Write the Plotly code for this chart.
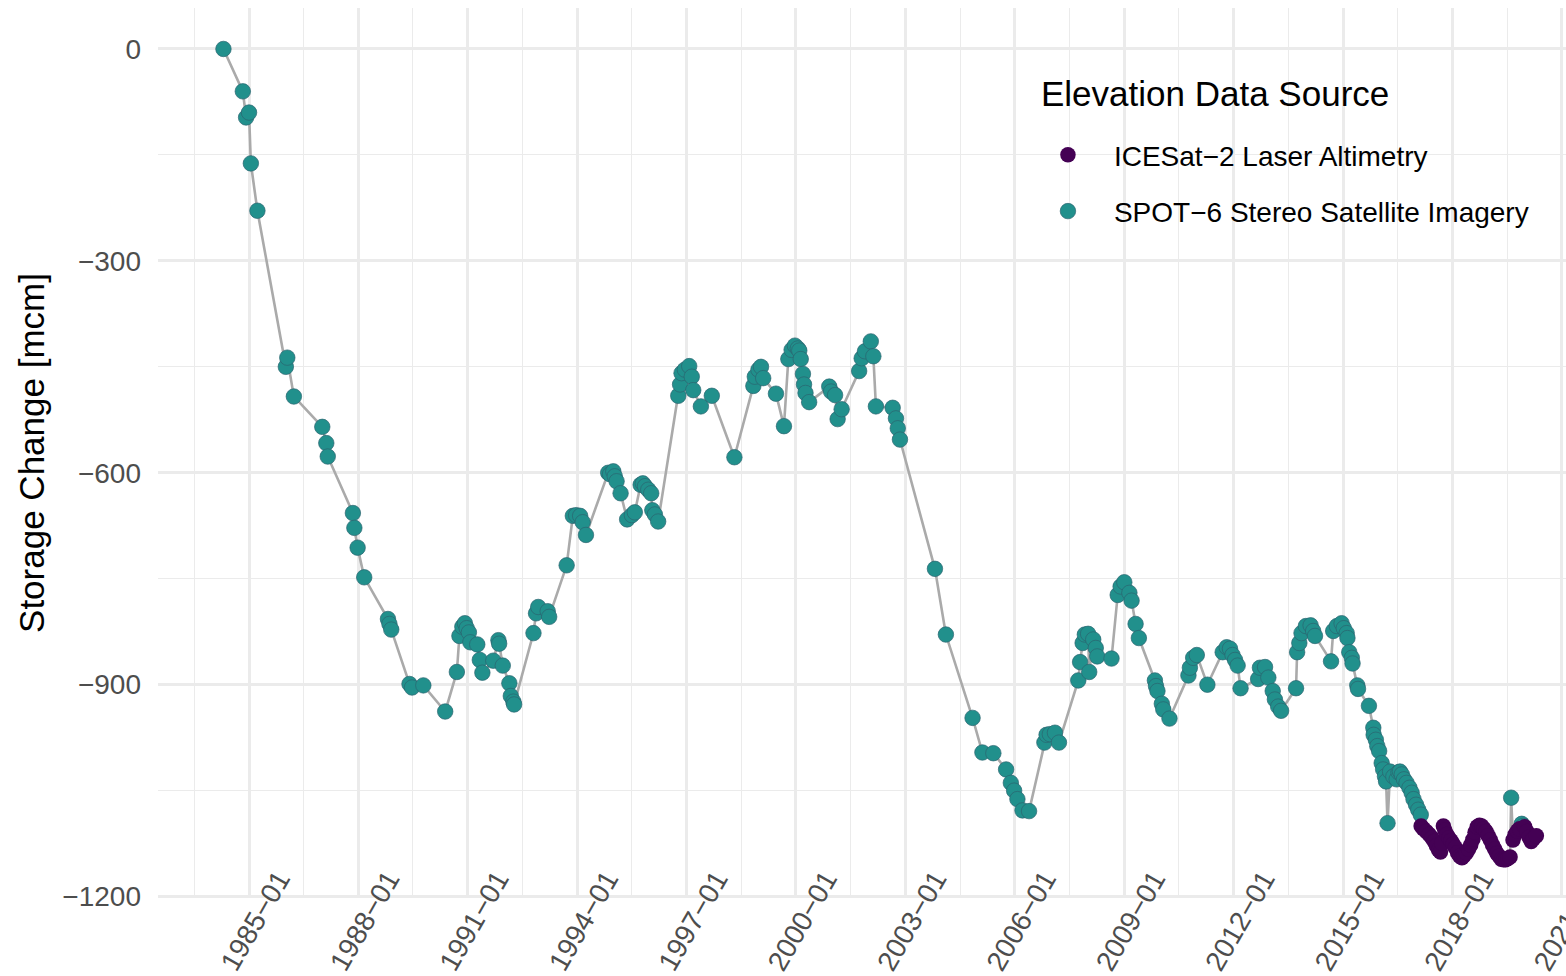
import pandas as pd
import plotly.graph_objects as go

# ---- data (decimal years, storage change in mcm) ----
spot_year = [
    1984.30, 1984.83, 1984.92, 1985.00, 1985.05, 1985.23, 1986.01, 1986.05, 1986.23,
    1987.01, 1987.12, 1987.16, 1987.85, 1987.89, 1987.98, 1988.16, 1988.81, 1988.85,
    1988.90, 1989.40, 1989.47, 1989.78, 1990.38, 1990.70, 1990.77, 1990.85, 1990.92,
    1990.97, 1991.03, 1991.07, 1991.26, 1991.33, 1991.40, 1991.70, 1991.84, 1991.86,
    1991.96, 1992.14, 1992.18, 1992.25, 1992.27, 1992.80, 1992.87, 1992.93, 1993.19,
    1993.23, 1993.71, 1993.88, 1993.97, 1994.08, 1994.15, 1994.24, 1994.85, 1994.90,
    1994.99, 1995.03, 1995.08, 1995.19, 1995.37, 1995.50, 1995.58, 1995.74, 1995.80,
    1995.86, 1995.95, 1996.03, 1996.06, 1996.13, 1996.22, 1996.77, 1996.82, 1996.86,
    1996.95, 1997.07, 1997.14, 1997.18, 1997.39, 1997.69, 1998.31, 1998.83, 1998.87,
    1998.97, 1999.04, 1999.10, 1999.45, 1999.67, 1999.79, 1999.88, 1999.97, 2000.05,
    2000.09, 2000.13, 2000.19, 2000.22, 2000.26, 2000.36, 2000.91, 2000.96, 2001.07,
    2001.14, 2001.25, 2001.73, 2001.80, 2001.89, 2002.05, 2002.12, 2002.19, 2002.65,
    2002.74, 2002.79, 2002.85, 2003.81, 2004.11, 2004.84, 2005.11, 2005.41, 2005.76,
    2005.89, 2005.98, 2006.07, 2006.21, 2006.39, 2006.81, 2006.87, 2006.96, 2007.10,
    2007.21, 2007.74, 2007.79, 2007.86, 2007.92, 2008.01, 2008.04, 2008.15, 2008.22,
    2008.26, 2008.65, 2008.82, 2008.90, 2009.00, 2009.14, 2009.20, 2009.31, 2009.40,
    2009.84, 2009.87, 2009.91, 2010.03, 2010.07, 2010.24, 2010.76, 2010.80, 2010.89,
    2010.99, 2011.28, 2011.70, 2011.81, 2011.90, 2011.97, 2012.04, 2012.11, 2012.19,
    2012.67, 2012.72, 2012.86, 2012.95, 2013.07, 2013.13, 2013.22, 2013.30, 2013.71,
    2013.74, 2013.80, 2013.86, 2013.98, 2014.11, 2014.18, 2014.23, 2014.67, 2014.73,
    2014.83, 2014.96, 2015.02, 2015.10, 2015.12, 2015.17, 2015.24, 2015.26, 2015.39,
    2015.41, 2015.71, 2015.83, 2015.84, 2015.90, 2015.94, 2015.99, 2016.06, 2016.10,
    2016.15, 2016.18, 2016.22, 2016.29, 2016.38, 2016.47, 2016.52, 2016.56, 2016.61,
    2016.67, 2016.74, 2016.82, 2016.88, 2016.93, 2017.00, 2017.06, 2017.13,
    2019.61, 2019.90, 2019.94,
]
spot_value = [
    0, -60, -97, -90, -162, -229, -450, -437, -492,
    -535, -558, -577, -657, -678, -706, -748, -807, -814,
    -822, -899, -904, -901, -938, -882, -831, -818, -813,
    -820, -826, -840, -843, -865, -883, -866, -837, -842,
    -873, -898, -916, -924, -928, -827, -799, -790, -796,
    -804, -731, -661, -660, -661, -670, -688, -600, -602,
    -598, -605, -612, -629, -666, -660, -656, -617, -615,
    -619, -624, -629, -653, -659, -669, -491, -475, -459,
    -454, -449, -464, -483, -506, -491, -578, -477, -464,
    -454, -450, -466, -488, -534, -439, -426, -420, -424,
    -427, -439, -460, -475, -487, -500, -478, -485, -490,
    -524, -510, -456, -438, -428, -414, -435, -506, -508,
    -523, -537, -553, -736, -829, -947, -996, -997, -1020,
    -1039, -1050, -1062, -1078, -1079, -982, -971, -970, -968,
    -982, -894, -868, -841, -829, -828, -882, -836, -848,
    -860, -863, -773, -761, -755, -770, -781, -814, -834,
    -894, -902, -909, -927, -935, -948, -887, -876, -862,
    -858, -900, -854, -847, -849, -858, -865, -873, -905,
    -892, -876, -875, -890, -909, -921, -931, -937, -905,
    -854, -841, -827, -817, -816, -824, -831, -867, -824,
    -817, -813, -820, -827, -834, -854, -862, -870, -901,
    -906, -930, -961, -971, -978, -987, -994, -1011, -1020,
    -1030, -1037, -1096, -1023, -1030, -1034, -1024, -1023, -1027,
    -1034, -1039, -1046, -1053, -1062, -1070, -1077, -1084,
    -1060, -1097, -1100,
]

icesat_year = [
    2017.14, 2017.20, 2017.28, 2017.36, 2017.44, 2017.50, 2017.56, 2017.62, 2017.67,
    2017.71, 2017.75, 2017.79, 2017.84, 2017.90, 2017.96, 2018.02, 2018.08, 2018.14,
    2018.20, 2018.26, 2018.32, 2018.38, 2018.44, 2018.50, 2018.56, 2018.62, 2018.68,
    2018.74, 2018.80, 2018.86, 2018.92, 2018.98, 2019.04, 2019.10, 2019.16, 2019.22,
    2019.28, 2019.34, 2019.40, 2019.46, 2019.52, 2019.58, 2019.66, 2019.72, 2019.78,
    2019.84, 2019.98, 2020.04, 2020.10, 2020.16, 2020.22, 2020.30,
]
icesat_value = [
    -1100, -1104, -1108, -1112, -1117, -1122, -1128, -1134, -1137,
    -1124, -1100, -1106, -1112, -1117, -1121, -1126, -1131, -1138,
    -1143, -1145, -1142, -1138, -1133, -1127, -1119, -1109, -1101,
    -1099, -1100, -1104, -1108, -1114, -1120, -1127, -1133, -1139,
    -1143, -1147, -1148, -1148, -1146, -1144, -1120, -1112, -1107,
    -1104, -1101, -1108, -1116, -1122, -1118, -1114,
]

x_tick_start = "1985-01-01"
source_names = ["ICESat\u22122 Laser Altimetry", "SPOT\u22126 Stereo Satellite Imagery"]
source_colors = ["#440154", "#21908C"]
legend_title = "Elevation Data Source"


def to_date(y):
    yr = int(y)
    a = pd.Timestamp(year=yr, month=1, day=1)
    b = pd.Timestamp(year=yr + 1, month=1, day=1)
    return a + (b - a) * (y - yr)


spot_dates = [to_date(v) for v in spot_year]
ice_dates = [to_date(v) for v in icesat_year]

all_df = pd.DataFrame({
    "date": spot_dates + ice_dates,
    "value": spot_value + icesat_value,
}).sort_values("date")

FONT = "Liberation Sans, Arial, Helvetica, sans-serif"
GRID = "#EBEBEB"

fig = go.Figure()
fig.add_trace(go.Scatter(
    x=all_df["date"], y=all_df["value"], mode="lines",
    line=dict(color="#AAAAAA", width=2.6), showlegend=False, hoverinfo="skip",
))
fig.add_trace(go.Scatter(
    x=spot_dates, y=spot_value, mode="markers", name=source_names[1],
    marker=dict(color=source_colors[1], size=15.5, line=dict(color="#2B6470", width=0.7)),
    legendrank=2, legendgroup="b",
))
fig.add_trace(go.Scatter(
    x=ice_dates, y=icesat_value, mode="markers", name=source_names[0],
    marker=dict(color=source_colors[0], size=15.5, line=dict(width=0)),
    legendrank=1, legendgroup="a",
))

fig.add_annotation(
    text=legend_title, xref="paper", yref="paper",
    x=(1039 - 158) / 1408, y=(898 - 93) / 890, xanchor="left", yanchor="middle",
    showarrow=False, font=dict(size=35, color="black", family=FONT),
)

fig.update_layout(
    width=1566, height=976,
    margin=dict(l=158, r=0, t=8, b=78, pad=0, autoexpand=False),
    paper_bgcolor="white", plot_bgcolor="white",
    font=dict(family=FONT, color="black"),
    legend=dict(
        font=dict(size=28, color="black"),
        x=0.6136, y=(898 - 130) / 890, xanchor="left", yanchor="top",
        bgcolor="rgba(0,0,0,0)", itemwidth=82, tracegroupgap=17,
    ),
    xaxis=dict(
        type="date", automargin=False,
        range=[to_date(1982.505), to_date(2021.112)],
        tick0=x_tick_start, dtick="M36", tickformat="%Y\u2212%m",
        tickangle=-60, tickfont=dict(size=28, color="#4D4D4D"),
        ticklabelshift=30, ticklabelstandoff=-42, ticklabeloverflow="allow",
        showgrid=True, gridcolor=GRID, gridwidth=2.6,
        minor=dict(dtick="M18", showgrid=True, gridcolor=GRID, gridwidth=1.3),
        zeroline=False, showline=False, ticks="",
    ),
    yaxis=dict(
        range=[-1202, 58], tick0=0, dtick=300, automargin=False,
        tickfont=dict(size=28, color="#4D4D4D"), ticklabelstandoff=16,
        title=dict(text="Storage Change [mcm]", font=dict(size=35, color="black"), standoff=7),
        showgrid=True, gridcolor=GRID, gridwidth=2.6,
        minor=dict(dtick=150, showgrid=True, gridcolor=GRID, gridwidth=1.3),
        zeroline=False, showline=False, ticks="",
    ),
)

fig.write_html(
    "out.html",
    config={"displayModeBar": False},
    post_script="document.body.style.margin='0';",
)
